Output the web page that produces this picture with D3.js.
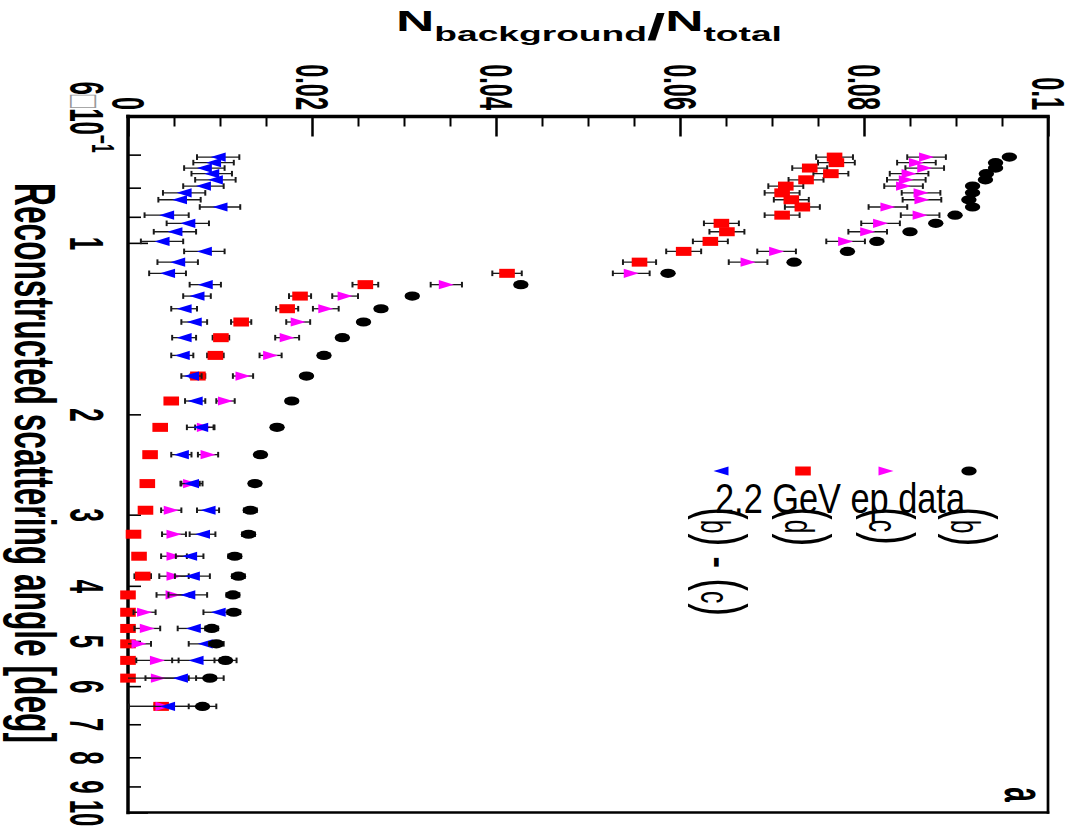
<!DOCTYPE html>
<html><head><meta charset="utf-8">
<script src="https://cdn.jsdelivr.net/npm/d3@7"></script>
<style>body{margin:0;background:#fff}svg{display:block}</style>
</head><body>
<svg id="c" width="1068" height="829"></svg>
<script>
// ---------------- data ----------------
const angles = [0.707,0.723,0.739,0.756,0.775,0.795,0.817,0.840,0.865,0.894,0.924,0.956,0.994,1.035,1.081,1.131,1.184,1.240,1.305,1.377,1.467,1.576,1.713,1.895,2.108,2.354,2.646,2.947,3.247,3.549,3.847,4.150,4.451,4.752,5.057,5.407,5.809,6.512];

// (b) black circles
const valB = [0.0958,0.0943,0.0943,0.0933,0.0932,0.0918,0.0918,0.0914,0.0918,0.0899,0.0878,0.0850,0.0814,0.0782,0.0724,0.0587,0.0427,0.0309,0.0275,0.0256,0.0233,0.0213,0.0194,0.0178,0.0162,0.0144,0.0138,0.0133,0.0131,0.0116,0.0120,0.0114,0.0115,0.0091,0.0096,0.0106,0.0089,0.0081];
const errB = [0.0005,0.0005,0.0005,0.0005,0.0005,0.0005,0.0005,0.0005,0.0005,0.0005,0.0005,0.0005,0.0005,0.0005,0.0005,0.0005,0.0006,0.0006,0.0006,0.0006,0.0006,0.0006,0.0006,0.0006,0.0006,0.0006,0.0006,0.0007,0.0007,0.0007,0.0007,0.0007,0.0007,0.0007,0.0008,0.0012,0.0015,0.0015];

// (c) magenta right triangles
const valC = [0.0868,0.0857,0.0866,0.0849,0.0846,0.0843,0.0862,0.0863,0.0826,0.0861,0.0818,0.0804,0.0780,0.0705,0.0674,0.0547,0.0346,0.0236,0.0215,0.0185,0.0173,0.0155,0.0125,0.0106,0.0083,0.0087,0.0068,0.0047,0.0050,0.0050,0.0050,0.0049,0.0018,0.0021,0.0012,0.0032,0.0033,0.0038];
const errC = [0.0021,0.0021,0.0021,0.0021,0.0021,0.0021,0.0021,0.0021,0.0021,0.0021,0.0021,0.0021,0.0021,0.0021,0.0021,0.0020,0.0017,0.0014,0.0014,0.0013,0.0013,0.0012,0.0011,0.0010,0.0010,0.0011,0.0010,0.0011,0.0013,0.0014,0.0016,0.0018,0.0012,0.0014,0.0013,0.0023,0.0033,0.0040];

// (d) red squares
const valD = [0.0768,0.0770,0.0741,0.0764,0.0737,0.0715,0.0711,0.0721,0.0733,0.0711,0.0645,0.0651,0.0633,0.0604,0.0556,0.0412,0.0258,0.0187,0.0173,0.0123,0.0101,0.0095,0.0076,0.0047,0.0035,0.0024,0.0021,0.0019,0.0006,0.0012,0.0016,0,0,0,0,0,0,0.0036];
const errD = [0.0020,0.0020,0.0019,0.0019,0.0019,0.0019,0.0019,0.0019,0.0019,0.0019,0.0019,0.0019,0.0019,0.0019,0.0018,0.0016,0.0014,0.0012,0.0012,0.0011,0.0009,0.0009,0.0008,0.0006,0.0005,0.0005,0.0005,0.0005,0.0005,0.0006,0.0009,0.0005,0.0005,0.0005,0.0005,0.0005,0.0005,0.0007];

// (b) - (c) blue left triangles
const valBC = [0.0098,0.0093,0.0083,0.0091,0.0095,0.0082,0.0061,0.0056,0.0100,0.0042,0.0065,0.0051,0.0037,0.0083,0.0054,0.0043,0.0084,0.0075,0.0061,0.0072,0.0061,0.0059,0.0069,0.0073,0.0079,0.0058,0.0069,0.0087,0.0081,0.0067,0.0070,0.0065,0.0098,0.0071,0.0084,0.0074,0.0057,0.0043];
const errBC = [0.0023,0.0022,0.0022,0.0022,0.0022,0.0022,0.0023,0.0023,0.0022,0.0024,0.0023,0.0023,0.0023,0.0022,0.0022,0.0020,0.0017,0.0015,0.0014,0.0014,0.0013,0.0012,0.0011,0.0011,0.0015,0.0011,0.0012,0.0012,0.0014,0.0015,0.0019,0.0021,0.0016,0.0017,0.0018,0.0026,0.0038,0.0042];

const legendLabels = ["(b) - (c)", "(d)", "(c)", "(b)"];
const legendTitle = "2.2 GeV ep data";
const xTickValues = [0, 0.02, 0.04, 0.06, 0.08, 0.1];
const xTickLabels = ["0", "0.02", "0.04", "0.06", "0.08", "0.1"];
const xMinorValues = [0.005,0.01,0.015,0.025,0.03,0.035,0.045,0.05,0.055,0.065,0.07,0.075,0.085,0.09,0.095];
const yTickValues = [0.6, 0.7, 0.8, 0.9, 1, 2, 3, 4, 5, 6, 7, 8, 9, 10];
const yTickLabels = ["6\u00d710-1", "", "", "", "1", "2", "3", "4", "5", "6", "7", "8", "9", "10"];
const xTitle = ["N", "background", "/", "N", "total"];
const yTitle = "Reconstructed scattering angle [deg]";
const panelLabel = "a";

// ---------------- drawing ----------------
const FONT = "'Liberation Sans', Arial, 'DejaVu Sans', sans-serif";
const svg = d3.select("#c");
svg.append("rect").attr("width",1068).attr("height",829).attr("fill","#fff");

const x = d3.scaleLinear().domain([0, 0.1]).range([128, 1048]);
const y = d3.scaleLog().domain([0.6, 10]).range([116.5, 812.5]);

// top axis minor ticks
const gxm = svg.append("g").attr("transform","translate(0,116.5)")
  .call(d3.axisTop(x).tickValues(xMinorValues).tickSize(-10).tickFormat(""));
gxm.select(".domain").remove();
gxm.selectAll("line").attr("stroke","#000").attr("stroke-width",2);

// top axis major ticks + labels
const gx = svg.append("g").attr("transform","translate(0,116.5)")
  .call(d3.axisTop(x).tickValues(xTickValues).tickSize(-20)
    .tickFormat(d => xTickLabels[xTickValues.indexOf(d)]));
gx.select(".domain").remove();
gx.selectAll("line").attr("stroke","#000").attr("stroke-width",2.5);
gx.selectAll("text")
  .attr("x",0).attr("y",0).attr("dy",null)
  .attr("transform","translate(-17,-6.5) rotate(90) scale(0.5,1)")
  .attr("text-anchor","end").attr("fill","#000")
  .style("font-family",FONT).style("font-weight","bold").style("font-size","47px");

// left axis
const gy = svg.append("g").attr("transform","translate(128,0)")
  .call(d3.axisLeft(y).tickValues(yTickValues).tickSize(-13)
    .tickFormat(d => yTickLabels[yTickValues.indexOf(d)]));
gy.select(".domain").remove();
gy.selectAll("line").attr("stroke","#000").attr("stroke-width",1.6)
  .attr("x2", d => (d === 1 || d === 10) ? 20 : (d === 0.6 ? 0 : 13));
gy.selectAll("text")
  .attr("x",0).attr("y",0).attr("dy",null)
  .attr("transform","translate(-58,0) rotate(90) scale(0.5,1)")
  .attr("text-anchor","middle").attr("fill","#000")
  .style("font-family",FONT).style("font-weight","bold").style("font-size","48px")
  .each(function(d){
    if (d === 0.6) {
      const t = d3.select(this).text(null);
      t.append("tspan").text("6");
      t.append("tspan").text("\u25a1").attr("fill","#999").style("font-weight","normal").style("font-size","44px");
      t.append("tspan").text("10");
      t.append("tspan").text("\u22121").attr("dy",-22).style("font-size","31px");
    }
  });

// frame
const fr = svg.append("g").attr("stroke","#000").attr("stroke-linecap","square");
fr.append("line").attr("x1",x(0)).attr("x2",x(0)).attr("y1",y(0.6)).attr("y2",y(10)).attr("stroke-width",3.5);
fr.append("line").attr("x1",x(0)).attr("x2",x(0.1)).attr("y1",y(0.6)).attr("y2",y(0.6)).attr("stroke-width",3.5);
fr.append("line").attr("x1",x(0.1)).attr("x2",x(0.1)).attr("y1",y(0.6)).attr("y2",y(10)).attr("stroke-width",2.7);
fr.append("line").attr("x1",x(0)).attr("x2",x(0.1)).attr("y1",y(10)).attr("y2",y(10)).attr("stroke-width",2.7);

// marker shapes
const shapes = {
  circle: "M-7.7,0A7.7,4.6 0 1,0 7.7,0A7.7,4.6 0 1,0 -7.7,0Z",
  square: "M-7.8,-4.5H7.8V4.5H-7.8Z",
  triL: "M-7.5,0L7.5,-4.6L7.5,4.6Z",
  triR: "M7.5,0L-7.5,-4.6L-7.5,4.6Z"
};

const series = [
  {name:"(d)", vals:valD, errs:errD, color:"#ff0000", shape:"square"},
  {name:"(c)", vals:valC, errs:errC, color:"#ff00ff", shape:"triR"},
  {name:"(b) - (c)", vals:valBC, errs:errBC, color:"#0000ff", shape:"triL"},
  {name:"(b)", vals:valB, errs:errB, color:"#000000", shape:"circle"}
];

series.forEach(s => {
  const pts = angles.map((a,i) => ({a, v:s.vals[i], e:s.errs[i]}));
  const g = svg.append("g");
  const eb = g.append("g").attr("stroke","#1a1a1a");
  pts.forEach(p => {
    const lo = Math.max(0, p.v - p.e), hi = p.v + p.e;
    const yy = y(p.a);
    eb.append("line").attr("x1",x(lo)).attr("x2",x(hi)).attr("y1",yy).attr("y2",yy).attr("stroke-width",1.3);
    if (p.v - p.e > 0) eb.append("line").attr("x1",x(lo)).attr("x2",x(lo)).attr("y1",yy-2.8).attr("y2",yy+2.8).attr("stroke-width",2);
    eb.append("line").attr("x1",x(hi)).attr("x2",x(hi)).attr("y1",yy-2.8).attr("y2",yy+2.8).attr("stroke-width",2);
  });
  g.append("g").selectAll("path").data(pts).join("path")
    .attr("d", shapes[s.shape])
    .attr("transform", d => `translate(${x(d.v)},${y(d.a)})`)
    .attr("fill", s.color);
});

// legend
const legOrder = [2, 0, 1, 3]; // (b)-(c), (d), (c), (b)
const legMarkX = [721, 803, 886, 969];
const legTextX = [701, 785, 868.5, 951];
const leg = svg.append("g");
legOrder.forEach((si, k) => {
  const s = series[si];
  leg.append("path").attr("d", shapes[s.shape])
    .attr("transform", `translate(${legMarkX[k]},471)`).attr("fill", s.color);
  const t = leg.append("g").attr("transform", `translate(${legTextX[k]},507) rotate(90) scale(0.6,1)`)
    .append("text").attr("x",0).attr("y",0).attr("text-anchor","start")
    .style("font-family",FONT).style("font-size","41px").attr("fill","#000");
  t.attr("xml:space","preserve");
  const label = legendLabels[k];
  const runs = label.split(/(\(|\)| - )/).filter(r => r.length);
  runs.forEach(r => {
    const ts = t.append("tspan").text(r);
    if (r === "(" || r === ")") ts.style("font-size","64px");
    else if (r === " - ") ts.style("font-size","60px");
  });
});
leg.append("text").attr("x",715).attr("y",513.3)
  .attr("textLength",250).attr("lengthAdjust","spacingAndGlyphs")
  .style("font-family",FONT).style("font-size","42px").attr("fill","#000")
  .text(legendTitle);

// x title (horizontal, top)
const xt = svg.append("g").attr("transform","translate(396,30.5) scale(1.77,1)")
  .append("text").attr("x",0).attr("y",0)
  .style("font-family",FONT).style("font-weight","bold").style("font-size","30px").attr("fill","#000");
xt.append("tspan").text(xTitle[0]);
xt.append("tspan").text(xTitle[1]).style("font-size","21px").attr("dy",10);
xt.append("tspan").text(xTitle[2]).style("font-size","37px").attr("dy",-1);
xt.append("tspan").text(xTitle[3]).attr("dy",-9);
xt.append("tspan").text(xTitle[4]).style("font-size","21px").attr("dy",10);

// y title (rotated)
svg.append("g").attr("transform","translate(15,463) rotate(90)")
  .append("text").attr("x",0).attr("y",0).attr("text-anchor","middle")
  .attr("textLength",560).attr("lengthAdjust","spacingAndGlyphs")
  .style("font-family",FONT).style("font-weight","bold").style("font-size","58px").attr("fill","#000")
  .text(yTitle);

// panel label
svg.append("g").attr("transform","translate(1005,794.5) rotate(90) scale(0.45,1)")
  .append("text").attr("text-anchor","middle")
  .style("font-family",FONT).style("font-weight","bold").style("font-size","58px").attr("fill","#000")
  .text(panelLabel);
</script>
</body></html>
